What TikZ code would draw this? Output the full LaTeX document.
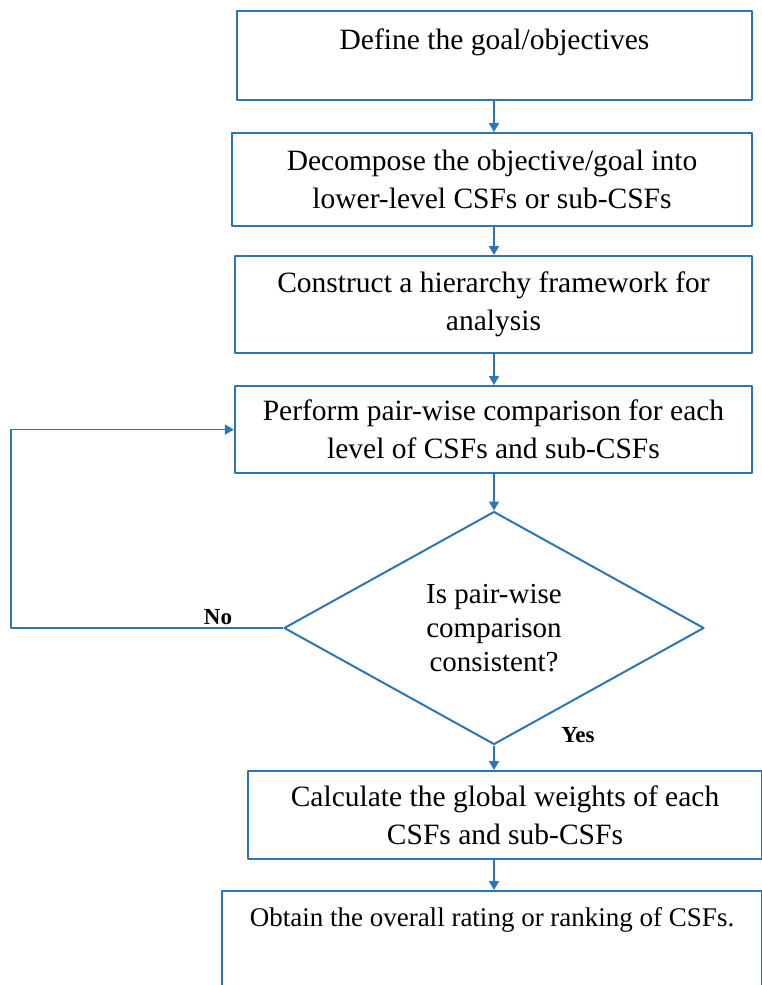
\documentclass[tikz,border=0pt]{standalone}
\usepackage{fontspec}
\setmainfont{Liberation Serif}
\usetikzlibrary{shapes.geometric,arrows.meta}
\definecolor{flowblue}{RGB}{46,117,182}
\begin{document}
\begin{tikzpicture}[x=1pt,y=1pt,line join=round,>={Triangle[length=9pt,width=10pt]},
  stepbox/.style={draw=flowblue,line width=2.2pt,inner xsep=4pt,inner ysep=0pt,
    align=center,anchor=north,font=\fontsize{29.5}{38}\selectfont},
  decision/.style={diamond,draw=flowblue,line width=2pt,inner sep=0pt,aspect=1.8,
    minimum width=420pt,minimum height=233pt,align=center,font=\fontsize{29}{34}\selectfont},
  answer/.style={font=\fontsize{23}{26}\selectfont\bfseries},
  flow/.style={->,draw=flowblue,line width=1.6pt}]
\useasboundingbox (0,0) rectangle (762,-985);
\node[stepbox,minimum width=515pt,text height=38pt,text depth=51pt] (goal) at (494.5,-10)
  {Define the goal/objectives};
\node[stepbox,minimum width=520pt,minimum height=93pt] (decomp) at (492,-132)
  {Decompose the objective/goal into\\lower-level CSFs or sub-CSFs};
\node[stepbox,minimum width=517pt,minimum height=97pt] (frame) at (493.5,-255)
  {Construct a hierarchy framework for\\analysis};
\node[stepbox,minimum width=517pt,minimum height=87pt] (pair) at (493.5,-385)
  {Perform pair-wise comparison for each\\level of CSFs and sub-CSFs};
\node[decision] (check) at (494,-628) {Is pair-wise\\comparison\\consistent?};
\node[stepbox,minimum width=514pt,minimum height=88pt] (calc) at (505,-770)
  {Calculate the global weights of each\\CSFs and sub-CSFs};
\node[stepbox,minimum width=540pt,text height=35pt,text depth=80pt,
  font=\fontsize{27}{32}\selectfont] (rank) at (492,-890)
  {Obtain the overall rating or ranking of CSFs.};
\node[answer] (no) at (218,-617) {No};
\node[answer] (yes) at (578,-735) {Yes};
% main line
\foreach \a/\b in {goal/decomp, decomp/frame, frame/pair, pair/check, check/calc, calc/rank}
  \draw[flow] (check.south |- \a.south) -- (check.south |- \b.north);
% back to the comparison step
\draw[flow] (check.west) -- ++(-272pt,0) |- (pair.west);
\end{tikzpicture}
\end{document}
